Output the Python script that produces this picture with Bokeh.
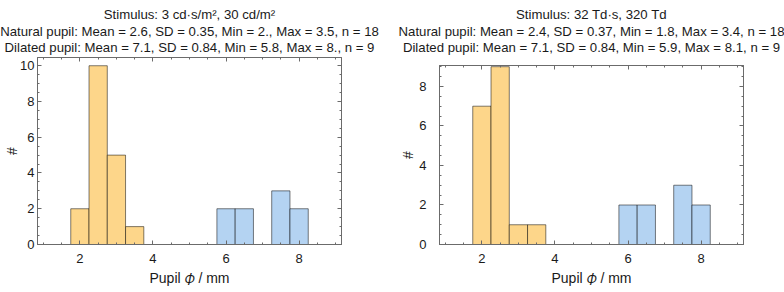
from bokeh.plotting import figure
from bokeh.models import Range1d, LinearAxis, SingleIntervalTicker, CustomJSTickFormatter
from bokeh.core.properties import value
from bokeh.layouts import row, column
from bokeh.embed import file_html
from bokeh.resources import INLINE

# ---- data ----
bin_width = 0.5
natural_bin_starts = [1.75, 2.25, 2.75, 3.25]
dilated_bin_starts = [5.75, 6.25, 6.75, 7.25, 7.75]

natural_counts_cd = [2, 10, 5, 1]
dilated_counts_cd = [2, 2, 0, 3, 2]

natural_counts_td = [7, 9, 1, 1]
dilated_counts_td = [2, 2, 0, 3, 2]

titles_cd = [
    "Stimulus: 3 cd\u00b7s/m\u00b2, 30 cd/m\u00b2",
    "Natural pupil: Mean = 2.6, SD = 0.35, Min = 2., Max = 3.5, n = 18",
    "Dilated pupil: Mean = 7.1, SD = 0.84, Min = 5.8, Max = 8., n = 9",
]
titles_td = [
    "Stimulus: 32 Td\u00b7s, 320 Td",
    "Natural pupil: Mean = 2.4, SD = 0.37, Min = 1.8, Max = 3.4, n = 18",
    "Dilated pupil: Mean = 7.1, SD = 0.84, Min = 5.9, Max = 8.1, n = 9",
]
x_label = "Pupil \U0001D719 / mm"
y_label = "#"

FONT = "Liberation Sans"
FRAME = "#6b6b6b"
TEXT = "#1a1a1a"
ORANGE = "#fdd68a"
BLUE = "#b4d3f2"
HEADER_H = 56
title_baselines = [14, 30.7, 47.3]


def style_axis(ax, show_labels, standoff=5):
    ax.axis_line_color = FRAME
    ax.major_tick_line_color = FRAME
    ax.minor_tick_line_color = FRAME
    ax.major_tick_in = 4
    ax.major_tick_out = 0
    ax.minor_tick_in = 2
    ax.minor_tick_out = 0
    ax.major_label_text_font = FONT
    ax.major_label_text_color = TEXT
    ax.axis_label_text_font = FONT
    ax.axis_label_text_font_size = "14px"
    ax.axis_label_text_font_style = "normal"
    ax.axis_label_text_color = TEXT
    if show_labels:
        ax.major_label_text_font_size = "13px"
        ax.major_label_standoff = standoff
    else:
        ax.formatter = CustomJSTickFormatter(code="return ''")
        ax.major_label_text_font_size = "1px"
        ax.major_label_standoff = 0


def bars(p, starts, counts, color):
    left = [s for s, c in zip(starts, counts) if c > 0]
    top = [c for c in counts if c > 0]
    right = [s + bin_width for s in left]
    p.quad(left=left, right=right, bottom=0, top=top, fill_color=color,
           fill_alpha=1.0, line_color="black", line_alpha=0.5, line_width=1)


def header(titles, center_x):
    h = figure(width=392, height=HEADER_H, x_range=Range1d(0, 392),
               y_range=Range1d(HEADER_H, 0), output_backend="svg",
               toolbar_location=None, min_border=0, x_axis_location=None,
               y_axis_location=None, outline_line_color=None,
               border_fill_color="white", background_fill_color="white")
    h.frame_align = False
    h.grid.visible = False
    h.text(x=[center_x] * len(titles), y=title_baselines, text=titles,
           text_align="center", text_baseline="alphabetic",
           text_font=value(FONT), text_font_size=value("13.2px"),
           text_color=TEXT)
    return h


def make(nat, dil, ytop, border_left, border_right, border_top,
         ylabel_standoff, ylabel_gap):
    p = figure(width=392, height=292 - HEADER_H, x_range=Range1d(0.84, 9.16),
               y_range=Range1d(0, ytop), output_backend="svg",
               toolbar_location=None, min_border_left=border_left,
               min_border_right=border_right, min_border_top=border_top,
               min_border_bottom=48, background_fill_color="white",
               border_fill_color="white")
    p.frame_align = False
    p.xgrid.visible = False
    p.ygrid.visible = False
    p.outline_line_color = FRAME

    xt = SingleIntervalTicker(interval=2, num_minor_ticks=4)
    yt = SingleIntervalTicker(interval=2, num_minor_ticks=4)
    p.xaxis.ticker = xt
    p.yaxis.ticker = yt
    style_axis(p.xaxis[0], True, 9)
    style_axis(p.yaxis[0], True, ylabel_standoff)
    p.yaxis.axis_label = y_label
    p.yaxis.axis_label_standoff = ylabel_gap
    p.xaxis.axis_label = x_label
    p.xaxis.axis_label_standoff = 4

    top_ax = LinearAxis(ticker=xt)
    style_axis(top_ax, False)
    p.add_layout(top_ax, "above")
    right_ax = LinearAxis(ticker=yt)
    style_axis(right_ax, False)
    p.add_layout(right_ax, "right")

    bars(p, natural_bin_starts, nat, ORANGE)
    bars(p, dilated_bin_starts, dil, BLUE)
    return p


h1 = header(titles_cd, 189)
p1 = make(natural_counts_cd, dilated_counts_cd, 10.46, 37, 51, 1, 3, -3)
h2 = header(titles_td, 199)
p2 = make(natural_counts_td, dilated_counts_td, 9.06, 47, 41, 9, 13, 0)

layout = row(column(h1, p1, spacing=0), column(h2, p2, spacing=0), spacing=0)
open("out.html", "w").write(file_html(layout, INLINE))
